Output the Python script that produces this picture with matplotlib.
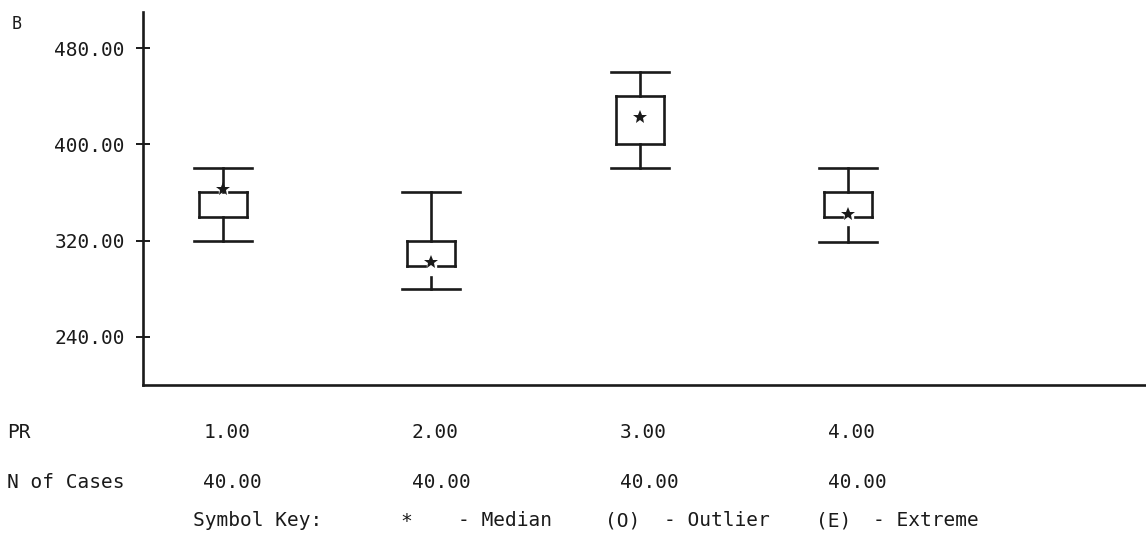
import matplotlib.pyplot as plt
from matplotlib.transforms import blended_transform_factory

# Box summaries per PR group
groups = [1, 2, 3, 4]
group_labels = ['1.00', '2.00', '3.00', '4.00']
n_cases = ['40.00', '40.00', '40.00', '40.00']
whisker_hi = [380, 360, 460, 380]
q3 = [360, 320, 440, 360]
medians = [363, 302.5, 423, 342.5]
q1 = [340, 299, 400, 340]
whisker_lo = [320, 280, 380, 319]

yticks = [240, 320, 400, 480]

plt.rcParams['font.family'] = 'DejaVu Sans Mono'
ink = '#1a1a1a'
fs = 14

fig = plt.figure(figsize=(11.46, 5.40), dpi=100)
ax = fig.add_axes([143 / 1146, 1 - 385 / 540, 1 - 143 / 1146, 373 / 540])
ax.set_xlim(0.616, 5.43)
ax.set_ylim(200, 510)

box_half = 0.115
cap_half = 0.139
gap_half = 0.031
lw = 1.9

for x, hi, top, med, bot, lo in zip(groups, whisker_hi, q3, medians, q1, whisker_lo):
    left, right = x - box_half, x + box_half
    ax.plot([left, left], [bot, top], color=ink, lw=lw)
    ax.plot([right, right], [bot, top], color=ink, lw=lw)
    # the median star breaks the edge it sits on
    near_top = med >= top - 0.2 * (top - bot)
    near_bot = med <= bot + 0.2 * (top - bot)
    if near_top:
        ax.plot([left, x - gap_half], [top, top], color=ink, lw=lw)
        ax.plot([x + gap_half, right], [top, top], color=ink, lw=lw)
    else:
        ax.plot([left, right], [top, top], color=ink, lw=lw)
    if near_bot:
        ax.plot([left, x - gap_half], [bot, bot], color=ink, lw=lw)
        ax.plot([x + gap_half, right], [bot, bot], color=ink, lw=lw)
        stem_start = bot - 9
    else:
        ax.plot([left, right], [bot, bot], color=ink, lw=lw)
        stem_start = bot
    # whiskers and caps
    ax.plot([x, x], [top, hi], color=ink, lw=lw)
    ax.plot([x, x], [stem_start, lo], color=ink, lw=lw)
    ax.plot([x - cap_half, x + cap_half], [hi, hi], color=ink, lw=lw)
    ax.plot([x - cap_half, x + cap_half], [lo, lo], color=ink, lw=lw)
    ax.plot(x, med, marker='*', markersize=10, color=ink, markeredgewidth=0)

for side in ['top', 'right']:
    ax.spines[side].set_visible(False)
for side in ['left', 'bottom']:
    ax.spines[side].set_linewidth(1.9)
    ax.spines[side].set_color(ink)

ax.set_yticks(yticks)
ax.set_yticklabels([f'{v:.2f}' for v in yticks], fontsize=fs, color=ink)
ax.tick_params(axis='y', direction='inout', length=10, width=1.4, color=ink, pad=8)
ax.set_xticks([])

fig.text(12 / 1146, 1 - 24 / 540, 'B', fontsize=12, color=ink, va='center')

# table rows under the plot
row_tf = blended_transform_factory(ax.transData, fig.transFigure)
pr_y = 1 - 433 / 540
n_y = 1 - 482 / 540
fig.text(7 / 1146, pr_y, 'PR', fontsize=fs, color=ink, va='center')
fig.text(7 / 1146, n_y, 'N of Cases', fontsize=fs, color=ink, va='center')
for x, lab, n in zip(groups, group_labels, n_cases):
    ax.text(x - 0.095, pr_y, lab, fontsize=fs, color=ink, va='center', transform=row_tf)
    ax.text(x - 0.095, n_y, n, fontsize=fs, color=ink, va='center', transform=row_tf)

key_y = 1 - 521 / 540
key_items = [(193, 'Symbol Key:'), (400, '*'), (458, '- Median'),
             (605, '(O)'), (664, '- Outlier'), (816, '(E)'), (873, '- Extreme')]
for px, s in key_items:
    fig.text(px / 1146, key_y, s, fontsize=fs, color=ink, va='center')

fig.savefig('out.png', dpi=100)
